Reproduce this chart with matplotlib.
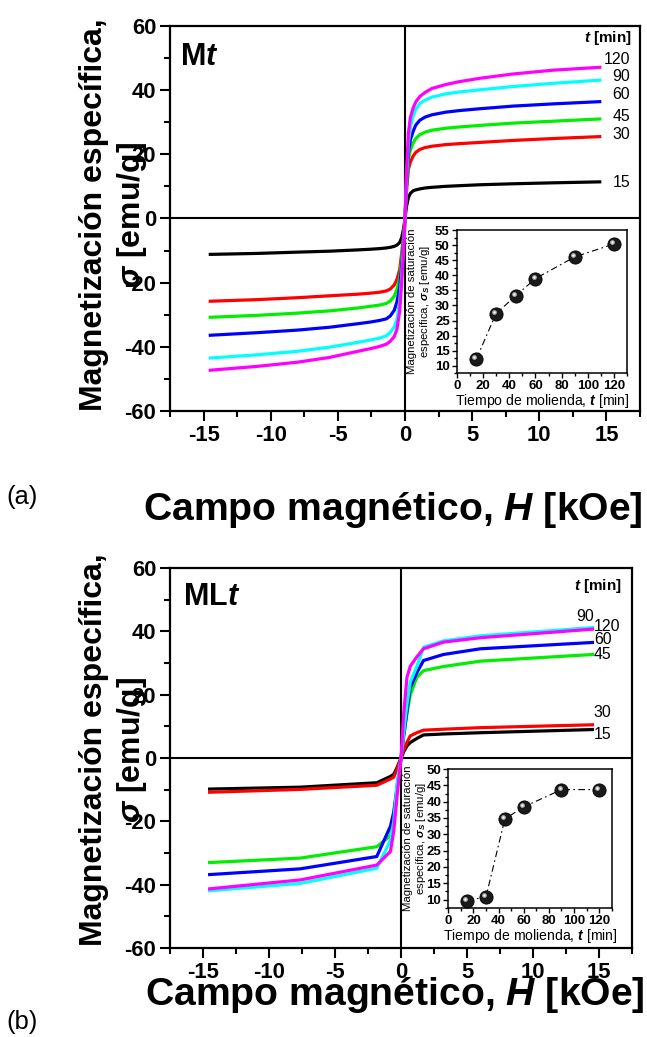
import numpy as np
import matplotlib
matplotlib.use('Agg')
from matplotlib import pyplot as plt
from matplotlib import font_manager, transforms
from matplotlib.ticker import MultipleLocator

# milling times [min] and curve colours
times = [15, 30, 45, 60, 90, 120]
colors = ['black', 'red', '#00ee00', 'blue', 'cyan', 'magenta']

# series Mt: field [kOe] and specific magnetization [emu/g]
H_mt = [-14.5, -11, -8, -5.6, -3.5, -2.6, -1.9, -1.4, -1.1, -0.8, -0.6, -0.4, -0.25, -0.1,
        0, 0.1, 0.25, 0.4, 0.6, 0.8, 1.1, 1.5, 2, 3, 4, 5.6, 8, 11, 14.5]
mt_15 = [-11.2, -10.9, -10.5, -10.2, -9.8, -9.6, -9.4, -9.2, -9.0, -8.7, -8.3, -7.5, -6.0, -3.0,
         0, 3.5, 6.5, 7.8, 8.6, 8.9, 9.2, 9.5, 9.7, 10.0, 10.2, 10.5, 10.8, 11.1, 11.4]
mt_30 = [-25.8, -25.3, -24.7, -24.1, -23.6, -23.3, -23.0, -22.6, -22.0, -20.7, -19.0, -16.0, -11.0, -5.0,
         0, 8.0, 15.3, 17.6, 19.4, 20.6, 21.5, 22.1, 22.5, 23.0, 23.3, 23.7, 24.3, 24.9, 25.5]
mt_45 = [-30.8, -30.2, -29.5, -28.8, -27.9, -27.4, -27.0, -26.5, -25.7, -24.2, -22.0, -18.5, -13.0, -6.0,
         0, 9.0, 18.3, 21.3, 23.5, 24.9, 26.1, 26.9, 27.5, 28.1, 28.5, 29.0, 29.7, 30.3, 31.0]
mt_60 = [-36.4, -35.6, -34.8, -33.9, -32.8, -32.3, -31.8, -31.3, -30.4, -28.6, -26.0, -21.5, -15.0, -7.0,
         0, 10.0, 20.4, 24.5, 27.1, 29.1, 30.6, 31.6, 32.3, 33.1, 33.6, 34.2, 35.0, 35.7, 36.4]
mt_90 = [-43.5, -42.5, -41.4, -40.1, -38.6, -37.9, -37.3, -36.6, -35.5, -33.8, -31.4, -26.0, -18.0, -8.0,
         0, 11.0, 23.5, 28.5, 31.8, 34.0, 35.8, 36.9, 37.8, 38.8, 39.4, 40.1, 41.1, 42.1, 43.1]
mt_120 = [-47.3, -46.1, -44.8, -43.3, -41.4, -40.6, -39.9, -39.2, -38.3, -36.8, -34.5, -29.0, -20.0, -9.0,
          0, 13.0, 26.6, 31.5, 34.4, 36.3, 38.0, 39.3, 40.5, 41.7, 42.6, 43.7, 45.0, 46.2, 47.1]

# series MLt
H_mlt = [-14.5, -7.65, -1.84, -0.8, -0.55, -0.3, 0, 0.2, 0.45, 0.7, 1.2, 1.7, 3.2, 6, 14.5]
mlt_15 = [-9.8, -9.2, -7.8, -5.8, -5.1, -3.0, 0, 2.0, 3.8, 4.9, 6.2, 7.3, 7.6, 8.0, 9.0]
mlt_30 = [-10.8, -9.9, -8.6, -6.6, -6.0, -3.5, 0, 2.5, 5.0, 7.0, 8.0, 8.8, 9.1, 9.6, 10.5]
mlt_45 = [-33.0, -31.6, -28.0, -24.5, -18.0, -10.0, 0, 7.0, 14.0, 20.0, 25.5, 27.6, 28.9, 30.6, 32.7]
mlt_60 = [-36.8, -35.0, -31.1, -21.5, -17.0, -9.0, 0, 7.0, 15.0, 22.3, 27.0, 30.8, 32.7, 34.5, 36.5]
mlt_90 = [-41.9, -39.6, -34.8, -26.0, -20.0, -8.0, 0, 8.0, 17.0, 24.0, 29.0, 35.0, 37.0, 38.6, 41.2]
mlt_120 = [-41.3, -38.5, -33.8, -29.5, -23.0, -12.0, 0, 14.0, 25.5, 29.0, 32.0, 34.5, 36.6, 38.0, 40.7]

# saturation magnetization vs milling time
ms_mt = [12.3, 27.3, 33.2, 38.9, 46.1, 50.4]
ms_mlt = [9.6, 10.9, 34.7, 38.4, 43.7, 43.7]


def has_font(name):
    try:
        font_manager.findfont(name, fallback_to_default=False)
        return True
    except ValueError:
        return False


NARROW = 'Liberation Sans Narrow' if has_font('Liberation Sans Narrow') else 'Liberation Sans'
WIDE = 'Liberation Sans'
k = 1.0 if NARROW != WIDE else 0.88

plt.rcParams['font.family'] = [NARROW, 'DejaVu Sans']
plt.rcParams['font.weight'] = 'bold'
plt.rcParams['axes.unicode_minus'] = False
plt.rcParams['mathtext.fontset'] = 'custom'
plt.rcParams['mathtext.rm'] = NARROW
plt.rcParams['mathtext.it'] = NARROW + ':italic:bold'
plt.rcParams['mathtext.bf'] = NARROW + ':bold'
plt.rcParams['mathtext.sf'] = NARROW + ':italic'


def style_main(ax):
    ax.set_xlim(-17.5, 17.5)
    ax.set_ylim(-60, 60)
    ax.xaxis.set_major_locator(MultipleLocator(5))
    ax.xaxis.set_minor_locator(MultipleLocator(2.5))
    ax.yaxis.set_major_locator(MultipleLocator(20))
    ax.yaxis.set_minor_locator(MultipleLocator(10))
    ax.tick_params(which='both', direction='out', width=1.5, top=False, right=False)
    ax.tick_params(which='major', length=7, labelsize=18 * k, pad=3)
    ax.tick_params(which='minor', length=4)
    for s in ax.spines.values():
        s.set_linewidth(1.6)
    ax.axhline(0, color='black', lw=1.5, zorder=1)
    ax.axvline(0, color='black', lw=1.5, zorder=1)


def style_inset(ax, ymax):
    ax.set_xlim(0, 130)
    ax.set_ylim(7.5, ymax)
    ax.xaxis.set_major_locator(MultipleLocator(20))
    ax.xaxis.set_minor_locator(MultipleLocator(10))
    ax.yaxis.set_major_locator(MultipleLocator(5))
    ax.yaxis.set_minor_locator(MultipleLocator(2.5))
    ax.tick_params(which='both', direction='out', width=1, top=False, right=False)
    ax.tick_params(which='major', length=3.5, labelsize=9.5, pad=1.5)
    ax.tick_params(which='minor', length=2)
    for s in ax.spines.values():
        s.set_linewidth(1.1)


def spheres(ax, t, ms):
    ax.plot(t, ms, color='black', lw=0.8, ls=(0, (6, 3, 1.5, 3)), zorder=2)
    ax.plot(t, ms, 'o', ms=9.5, mfc='#1a1a1a', mec='black', mew=0.6, zorder=3)
    shine = transforms.offset_copy(ax.transData, fig=ax.figure, x=-1.4, y=1.4, units='points')
    ax.plot(t, ms, 'o', ms=3.4, mfc='#cfcfcf', mec='none', alpha=0.85, transform=shine, zorder=4)
    ax.plot(t, ms, 'o', ms=1.5, mfc='white', mec='none', transform=shine, zorder=5)


fig = plt.figure(figsize=(6.47, 10.37), dpi=100)
ax_a = fig.add_axes([0.2628, 0.6037, 0.7264, 0.3713])
ax_b = fig.add_axes([0.2628, 0.0858, 0.7141, 0.3664])

for ax in (ax_a, ax_b):
    style_main(ax)

for m, c in zip([mt_15, mt_30, mt_45, mt_60, mt_90, mt_120], colors):
    ax_a.plot(H_mt, m, color=c, lw=2.3, zorder=3)
for m, c in zip([mlt_15, mlt_30, mlt_45, mlt_60, mlt_90, mlt_120], colors):
    ax_b.plot(H_mlt, m, color=c, lw=2.3, zorder=3)

# curve labels
lab_a_y = [11.2, 26.1, 31.7, 38.6, 44.2, 49.5]
for t, y in zip(times, lab_a_y):
    ax_a.text(16.75, y, str(t), ha='right', va='center', fontsize=13 * k, weight='normal')
ax_a.text(16.9, 56.3, r'$t$ [min]', ha='right', va='center', fontsize=12.5 * k)
ax_a.text(-16.75, 50.4, r'M$t$', ha='left', va='center', fontsize=25 * k)

lab_b_x = [14.6, 14.6, 14.6, 14.6, 13.3, 14.6]
lab_b_y = [7.3, 14.3, 32.7, 37.5, 44.8, 41.6]
for t, x, y in zip(times, lab_b_x, lab_b_y):
    ax_b.text(x, y, str(t), ha='left', va='center', fontsize=13 * k, weight='normal')
ax_b.text(16.7, 54.3, r'$t$ [min]', ha='right', va='center', fontsize=12.5 * k)
ax_b.text(-16.5, 50.8, r'ML$t$', ha='left', va='center', fontsize=25 * k)

# axis titles
ylab = 'Magnetización específica,\n' + r'$\sigma$ [emu/g]'
xlab = r'Campo magnético, $H$ [kOe]'
fig.text(0.176, 0.7927, ylab, rotation=90, ha='center', va='center', multialignment='center',
         family=[WIDE, 'DejaVu Sans'], fontsize=23, linespacing=1.25)
fig.text(0.176, 0.2768, ylab, rotation=90, ha='center', va='center', multialignment='center',
         family=[WIDE, 'DejaVu Sans'], fontsize=23, linespacing=1.25)
fig.text(0.607, 0.5082, xlab, ha='center', va='center', fontsize=32 * k)
fig.text(0.610, 0.0405, xlab, ha='center', va='center', fontsize=32 * k)
fig.text(0.034, 0.5207, '(a)', ha='center', va='center', fontsize=21 * k, weight='normal')
fig.text(0.034, 0.0145, '(b)', ha='center', va='center', fontsize=21 * k, weight='normal')

# insets: saturation magnetization vs milling time
ins_a = fig.add_axes([0.7059, 0.640, 0.2637, 0.1382])
ins_b = fig.add_axes([0.6929, 0.1247, 0.2526, 0.1337])
style_inset(ins_a, 55)
style_inset(ins_b, 50)
spheres(ins_a, times, ms_mt)
spheres(ins_b, times, ms_mlt)

ins_ylab = 'Magnetización de saturación\nespecífica, ' + r'$\sigma_{\mathsf{S}}$ [emu/g]'
for ins, xc in ((ins_a, -0.145), (ins_b, -0.124)):
    ins.set_xlabel(r'Tiempo de molienda, $\mathsf{t}$ [min]', fontsize=11.5 * k, weight='normal',
                   labelpad=0)
    ins.set_ylabel(ins_ylab, fontsize=8.2, family=[WIDE, 'DejaVu Sans'], linespacing=1.1)
    ins.yaxis.set_label_coords(xc, 0.5)

fig.savefig('out.png', dpi=100)
